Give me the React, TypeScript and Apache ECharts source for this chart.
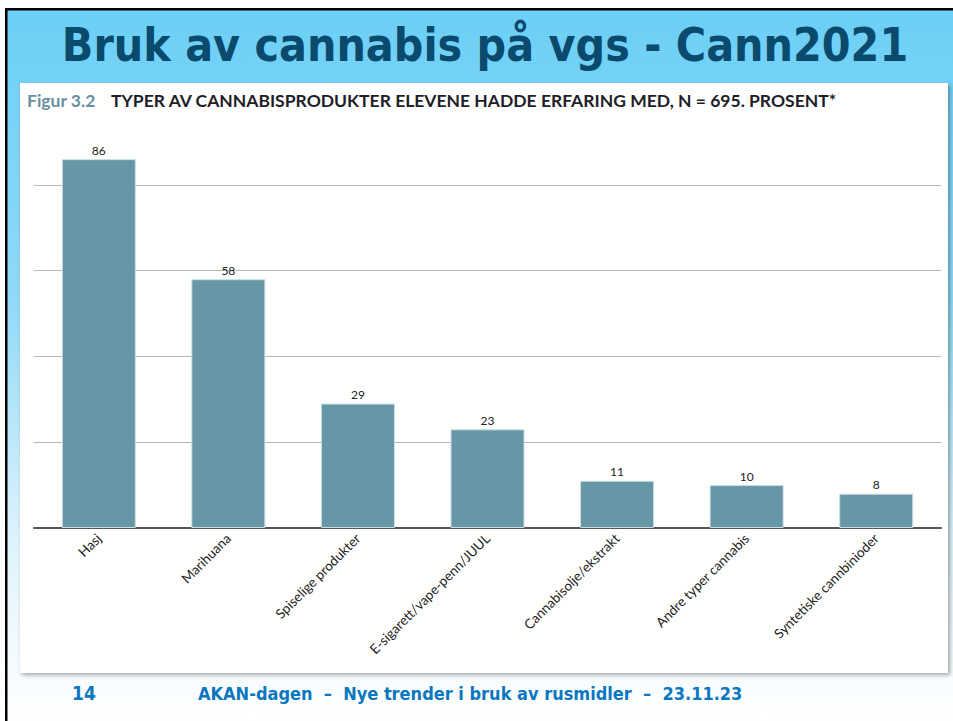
import React, { useEffect, useRef } from "react";
import * as echarts from "echarts";

const categories = [
  "Hasj",
  "Marihuana",
  "Spiselige produkter",
  "E-sigarett/vape-penn/JUUL",
  "Cannabisolje/ekstrakt",
  "Andre typer cannabis",
  "Syntetiske cannbinioder",
];
const values = [86, 58, 29, 23, 11, 10, 8];

const slideTitle = "Bruk av cannabis på vgs - Cann2021";
const figLabel = "Figur 3.2";
const figTitle = "TYPER AV CANNABISPRODUKTER ELEVENE HADDE ERFARING MED, N = 695. PROSENT*";
const pageNo = "14";
const footer = "AKAN-dagen  –  Nye trender i bruk av rusmidler  –  23.11.23";

export default function App() {
  const ref = useRef<HTMLDivElement>(null);
  useEffect(() => {
    if (!ref.current) return;
    const chart = echarts.init(ref.current, null, { renderer: "svg" });
    chart.setOption({
      animation: false,
      backgroundColor: "#ffffff",
      graphic: [
        {
          type: "rect",
          z: -10,
          silent: true,
          shape: { x: 7, y: 10, width: 946, height: 711 },
          style: {
            fill: new echarts.graphic.LinearGradient(0, 0, 0, 1, [
              { offset: 0, color: "#6ccff6" },
              { offset: 0.4, color: "#8fd9f7" },
              { offset: 0.75, color: "#dff3fc" },
              { offset: 1, color: "#ffffff" },
            ]),
          },
        },
        { type: "rect", z: -9, silent: true, shape: { x: 5, y: 8, width: 948, height: 2.5 }, style: { fill: "#000" } },
        { type: "rect", z: -9, silent: true, shape: { x: 5, y: 8, width: 2.5, height: 713 }, style: { fill: "#000" } },
        {
          type: "rect",
          z: -8,
          silent: true,
          shape: { x: 20, y: 83, width: 928, height: 590 },
          style: { fill: "#ffffff", shadowBlur: 4, shadowOffsetX: 2, shadowOffsetY: 2, shadowColor: "rgba(0,0,0,0.35)" },
        },
        {
          type: "text",
          z: 10,
          x: 485,
          y: 45,
          style: {
            text: slideTitle,
            fill: "#0a4a6c",
            font: "bold 46px 'DejaVu Sans Condensed'",
            align: "center",
            verticalAlign: "middle",
          },
        },
        {
          type: "text",
          z: 10,
          x: 27,
          y: 100,
          style: {
            text: figLabel,
            fill: "#6a8fa0",
            font: "bold 17.5px Lato",
            verticalAlign: "middle",
          },
        },
        {
          type: "text",
          z: 10,
          x: 111,
          y: 100,
          style: {
            text: figTitle,
            fill: "#1e1e28",
            font: "bold 17.5px Lato",
            verticalAlign: "middle",
          },
        },
        {
          type: "text",
          z: 10,
          x: 72,
          y: 693,
          style: { text: pageNo, fill: "#0b77c0", font: "bold 19px 'DejaVu Sans Condensed'", verticalAlign: "middle" },
        },
        {
          type: "text",
          z: 10,
          x: 198,
          y: 693,
          style: { text: footer, fill: "#0b77c0", font: "bold 18px 'DejaVu Sans Condensed'", verticalAlign: "middle" },
        },
      ],
      grid: { left: 34, top: 142, width: 907, height: 386, containLabel: false },
      xAxis: {
        type: "category",
        data: categories,
        axisLine: { show: true, lineStyle: { color: "#555555", width: 2 } },
        axisTick: { show: false },
        axisLabel: {
          rotate: 45,
          interval: 0,
          margin: 8,
          color: "#222",
          fontFamily: "Lato",
          fontSize: 13.5,
        },
      },
      yAxis: {
        type: "value",
        min: 0,
        max: 90,
        interval: 20,
        axisLine: { show: false },
        axisTick: { show: false },
        axisLabel: { show: false },
        splitLine: { show: true, showMinLine: false, showMaxLine: false, lineStyle: { color: "#b5b5b5", width: 1 } },
      },
      series: [
        {
          type: "bar",
          data: values,
          barWidth: 74,
          itemStyle: { color: "#6796a6", borderColor: "#c9dde4", borderWidth: 1 },
          label: {
            show: true,
            position: "top",
            distance: 3,
            color: "#222",
            fontFamily: "Lato",
            fontSize: 12,
          },
        },
      ],
    });
    return () => chart.dispose();
  }, []);
  return (
    <div
      ref={ref}
      style={{ position: "fixed", left: 0, top: 0, width: 953, height: 721 }}
    />
  );
}
